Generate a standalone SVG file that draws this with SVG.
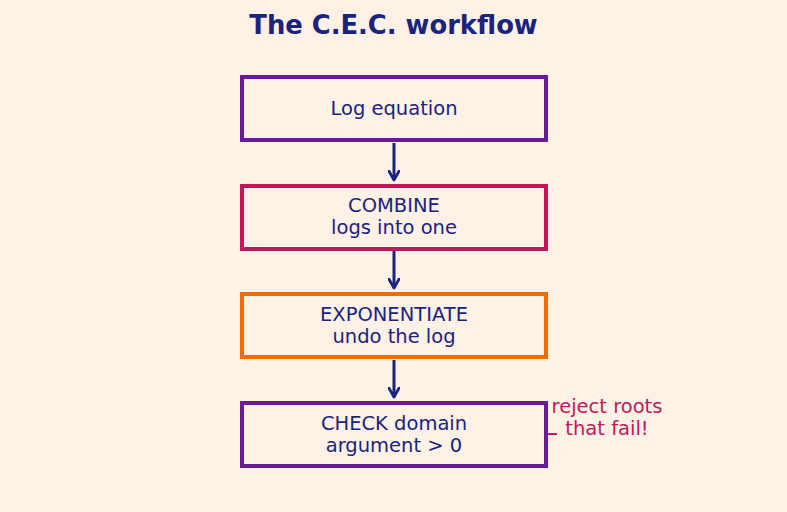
<svg xmlns="http://www.w3.org/2000/svg" width="787" height="512" viewBox="0 0 787 512">
<defs>
<style>
.box{fill:none;stroke-width:4}
.lbl{font-family:"DejaVu Sans",sans-serif;font-size:19.5px;fill:#1a237e;text-anchor:middle}
.note{font-family:"DejaVu Sans",sans-serif;font-size:19.5px;fill:#c2185b;text-anchor:middle}
.conn{stroke:#1a237e;stroke-width:3;fill:none;marker-end:url(#ah)}
</style>
<marker id="ah" viewBox="0 0 10 10" refX="8" refY="5" markerWidth="4.3" markerHeight="4.3" orient="auto" markerUnits="strokeWidth">
<path d="M1,1 L8,5 L1,9" fill="none" stroke="#1a237e" stroke-width="2.2" stroke-linecap="round" stroke-linejoin="round"/>
</marker>
</defs>
<rect width="787" height="512" fill="#fef1e6"/>
<text x="393.5" y="34" font-family="DejaVu Sans,sans-serif" font-size="25.8" font-weight="bold" fill="#1a237e" text-anchor="middle">The C.E.C. workflow</text>
<g id="connectors">
<line class="conn" x1="394" y1="143" x2="394" y2="180"/>
<line class="conn" x1="394" y1="251" x2="394" y2="288"/>
<line class="conn" x1="394" y1="360" x2="394" y2="397"/>
</g>
<g id="n1"><rect class="box" x="242" y="77" width="304" height="63" stroke="#6a1b9a"/><text class="lbl" x="394" y="115">Log equation</text></g>
<g id="n2"><rect class="box" x="242" y="186" width="304" height="63" stroke="#c2185b"/><text class="lbl" x="394" y="212">COMBINE</text><text class="lbl" x="394" y="234">logs into one</text></g>
<g id="n3"><rect class="box" x="242" y="294" width="304" height="63" stroke="#ef6c00"/><text class="lbl" x="394" y="321">EXPONENTIATE</text><text class="lbl" x="394" y="343">undo the log</text></g>
<g id="n4"><rect class="box" x="242" y="403" width="304" height="63" stroke="#6a1b9a"/><text class="lbl" x="394" y="430">CHECK domain</text><text class="lbl" x="394" y="452">argument &gt; 0</text></g>
<g id="note">
<line x1="548" y1="434" x2="557" y2="434" stroke="#c2185b" stroke-width="2"/>
<text class="note" x="607" y="413">reject roots</text>
<text class="note" x="607" y="435">that fail!</text>
</g>
</svg>
